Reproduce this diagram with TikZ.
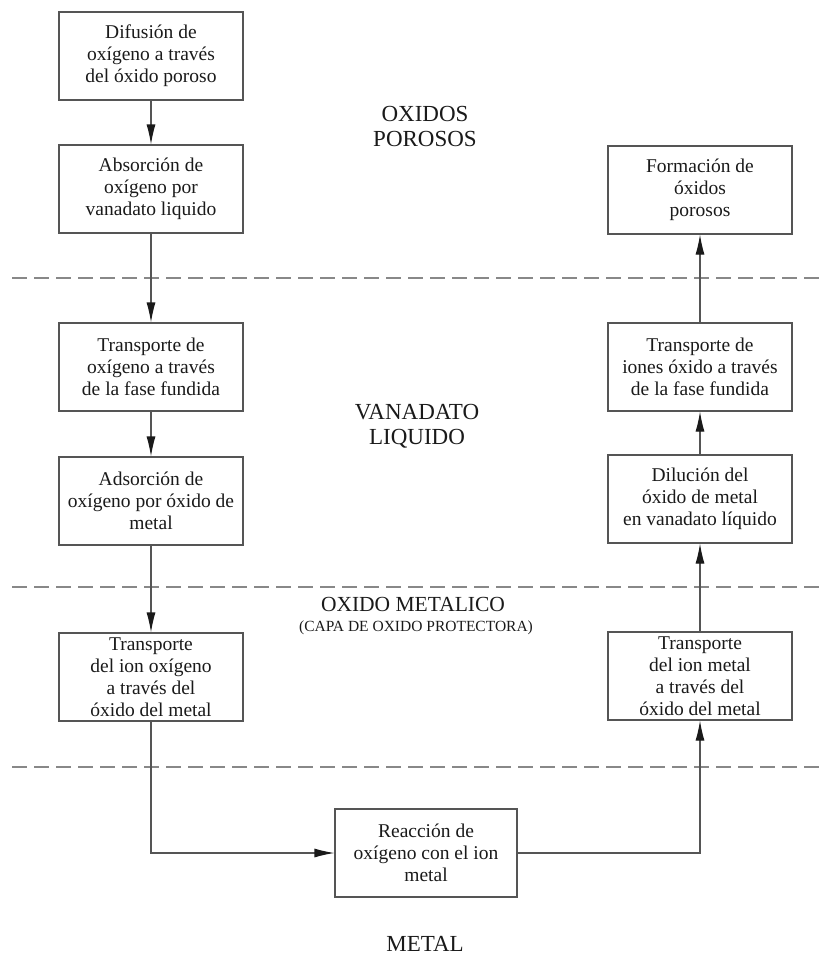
\documentclass[tikz,border=0pt]{standalone}
\usepackage{fontspec}
\setmainfont{Liberation Serif}
\usepackage{xcolor}
\usepackage{tikz}
\usetikzlibrary{arrows.meta}

\definecolor{linea}{HTML}{555555}
\definecolor{texto}{HTML}{1A1A1A}

\tikzset{
  caja/.style={draw=linea, line width=1.1pt, minimum width=184pt, minimum height=88pt,
    align=center, text=texto, inner sep=2pt, font=\fontsize{19.5}{22}\selectfont},
  zona/.style={align=center, text=texto, font=\fontsize{23}{25}\selectfont},
  flecha/.style={draw=linea, line width=1.1pt, -{Latex[length=20pt,width=9pt,color=texto]}},
  corte/.style={draw=linea!70, line width=1.2pt, dash pattern=on 15pt off 7pt}
}

\begin{document}
\begin{tikzpicture}[x=1pt,y=-1pt]
\useasboundingbox (0,0) rectangle (826,956);

% capas
\draw[corte] (12,278) -- (826,278);
\draw[corte] (12,587) -- (826,587);
\draw[corte] (12,767) -- (826,767);

% nombres de las capas
\node[zona] (porosos) at (425,126) {OXIDOS\\POROSOS};
\node[zona] (vanadato) at (417,426) {VANADATO\\LIQUIDO};
\node[zona, font=\fontsize{21.5}{23}\selectfont] (oxmet) at (413,604) {OXIDO METALICO};
\node[zona, font=\fontsize{15.5}{18}\selectfont] (capa) at (416,628) {(CAPA DE OXIDO PROTECTORA)};
\node[zona] (metal) at (425,944) {METAL};

% columna izquierda
\node[caja] (dif) at (151,56) {Difusión de\\oxígeno a través\\del óxido poroso};
\node[caja] (abs) at (151,189) {Absorción de\\oxígeno por\\vanadato liquido};
\node[caja] (tra) at (151,367) {Transporte de\\oxígeno a través\\de la fase fundida};
\node[caja] (ads) at (151,501) {Adsorción de\\oxígeno por óxido de\\metal};
\node[caja] (tio) at (151,677) {Transporte\\del ion oxígeno\\a través del\\óxido del metal};

% abajo
\node[caja, minimum width=182pt] (rea) at (426,853) {Reacción de\\oxígeno con el ion\\metal};

% columna derecha
\node[caja] (tim) at (700,676) {Transporte\\del ion metal\\a través del\\óxido del metal};
\node[caja] (dil) at (700,499) {Dilución del\\óxido de metal\\en vanadato líquido};
\node[caja] (tif) at (700,367) {Transporte de\\iones óxido a través\\de la fase fundida};
\node[caja] (for) at (700,190) {Formación de\\óxidos\\porosos};

% bajada
\draw[flecha] (dif) -- (abs);
\draw[flecha] (abs) -- (tra);
\draw[flecha] (tra) -- (ads);
\draw[flecha] (ads) -- (tio);
\draw[flecha] (tio.south) |- (rea.west);

% subida
\draw[flecha] (rea.east) -| (tim.south);
\draw[flecha] (tim) -- (dil);
\draw[flecha] (dil) -- (tif);
\draw[flecha] (tif) -- (for);
\end{tikzpicture}
\end{document}
